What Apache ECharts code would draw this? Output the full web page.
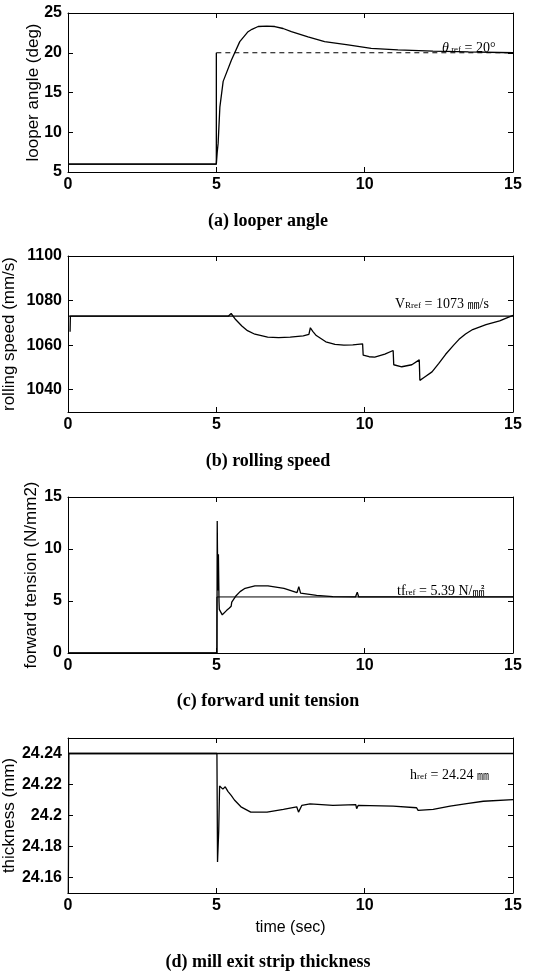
<!DOCTYPE html>
<html>
<head>
<meta charset="utf-8">
<script src="https://cdn.jsdelivr.net/npm/echarts@6.0.0/dist/echarts.min.js"></script>
<style>
  html, body { margin: 0; padding: 0; background: #fff; }
  #chart { width: 536px; height: 978px; }
</style>
</head>
<body>
<div id="chart"></div>
<script>
// (a) looper angle
const angleT = [0, 5.0, 5.03, 5.06, 5.12, 5.23, 5.51, 5.79, 6.07, 6.2, 6.41, 6.7, 6.97, 7.25, 7.53, 8.09, 8.65, 9.44, 10.22, 11.12, 12.3, 13.5, 15]
const angleV = [6, 6, 7.5, 8.6, 13.2, 16.4, 19.1, 21.4, 22.65, 22.95, 23.3, 23.35, 23.3, 23.05, 22.65, 22.0, 21.4, 21.0, 20.55, 20.35, 20.2, 20.1, 20.0]
const angleRefT = [0, 5.0, 5.0, 15]
const angleRefV = [6, 6, 20, 20]

// (b) rolling speed
const speedT = [0.07, 0.08, 5.4, 5.5, 5.65, 5.86, 6.05, 6.3, 6.73, 7.1, 7.49, 7.93, 8.12, 8.17, 8.25, 8.37, 8.69, 9.0, 9.3, 9.6, 9.93, 9.95, 10.15, 10.34, 10.68, 10.96, 10.98, 11.25, 11.59, 11.84, 11.86, 12.0, 12.27, 12.5, 12.73, 13.0, 13.18, 13.4, 13.64, 14.09, 14.55, 15]
const speedV = [1066, 1073, 1073, 1074.2, 1071.5, 1068.6, 1066.5, 1064.9, 1063.6, 1063.4, 1063.6, 1064.2, 1064.8, 1067.8, 1066.2, 1064.3, 1061.5, 1060.3, 1060, 1060.1, 1060.6, 1055.5, 1054.8, 1054.6, 1056, 1057.6, 1051.2, 1050.3, 1051.2, 1053.4, 1044.2, 1045.5, 1048, 1051.8, 1055.9, 1060, 1062.6, 1065, 1067, 1069.2, 1070.9, 1073.4]
const speedRefT = [0, 15]
const speedRefV = [1073, 1073]

// (c) forward unit tension
const tensionT = [0, 5.02, 5.03, 5.05, 5.07, 5.09, 5.1, 5.2, 5.35, 5.43, 5.5, 5.52, 5.65, 5.8, 5.97, 6.3, 6.74, 7.28, 7.72, 7.78, 7.84, 8.38, 8.93, 9.69, 9.75, 9.8, 15]
const tensionV = [0, 0, 12.7, 6, 9.5, 5, 4.2, 3.67, 4.1, 4.3, 4.5, 4.9, 5.45, 5.9, 6.22, 6.45, 6.45, 6.22, 5.8, 6.38, 5.75, 5.55, 5.42, 5.39, 5.85, 5.39, 5.39]
const tensionRefT = [0, 5.02, 5.02, 15]
const tensionRefV = [0, 0, 5.39, 5.39]

// (d) mill exit strip thickness
const thickT = [0, 0.03, 5.02, 5.04, 5.08, 5.11, 5.22, 5.3, 5.39, 5.5, 5.61, 5.83, 6.16, 6.71, 7.26, 7.71, 7.77, 7.88, 8.16, 8.93, 9.7, 9.73, 9.78, 10.96, 11.0, 11.75, 11.8, 12.31, 12.88, 13.44, 14.0, 15]
const thickV = [24.1, 24.24, 24.24, 24.17, 24.19, 24.219, 24.217, 24.2185, 24.2156, 24.213, 24.21, 24.2056, 24.2022, 24.2022, 24.204, 24.2056, 24.2022, 24.2065, 24.2075, 24.2065, 24.207, 24.2044, 24.2065, 24.206, 24.205, 24.205, 24.2033, 24.204, 24.206, 24.2077, 24.2092, 24.2103]
const thickRefT = [0, 15]
const thickRefV = [24.24, 24.24]

const speedTicks = [1040, 1060, 1080, 1100]
const thickTicks = [24.16, 24.18, 24.2, 24.22, 24.24]

const sans = 'Liberation Sans, Arial, sans-serif'
const serif = 'Liberation Serif, Times New Roman, serif'

const zip = (t, v) => t.map((x, i) => [x, v[i]])

const grids = [
  { left: 68, width: 445, top: 13, height: 159 },
  { left: 68, width: 445, top: 256, height: 156 },
  { left: 68, width: 445, top: 497, height: 156 },
  { left: 68, width: 445, top: 738, height: 155 },
].map(g => ({ ...g, containLabel: false, outerBoundsMode: 'none' }))

const lineAx = { show: true, onZero: false, lineStyle: { color: '#000', width: 1 } }
const tick = { show: true, inside: true, length: 5, lineStyle: { color: '#000' } }
const tickFont = { color: '#000', fontSize: 16, fontFamily: sans, fontWeight: 'bold' }

const xAxes = []
const yAxes = []
grids.forEach((g, i) => {
  xAxes.push({
    type: 'value', gridIndex: i, min: 0, max: 15, interval: 5, position: 'bottom',
    axisLine: lineAx, axisTick: tick, splitLine: { show: false },
    axisLabel: { ...tickFont, margin: 5 },
    name: i === 3 ? 'time (sec)' : '', nameLocation: 'middle', nameGap: 27, nameMoveOverlap: false,
    nameTextStyle: { color: '#000', fontSize: 16, fontFamily: sans },
  })
  xAxes.push({
    type: 'value', gridIndex: i, min: 0, max: 15, interval: 5, position: 'top',
    axisLine: lineAx, axisTick: tick, splitLine: { show: false }, axisLabel: { show: false },
  })
})

const ySpecs = [
  { min: 5, max: 25, interval: 5, name: 'looper angle (deg)', gap: 26 },
  { min: 1030, max: 1100, custom: speedTicks, name: 'rolling speed (mm/s)', gap: 50 },
  { min: 0, max: 15, interval: 5, name: 'forward tension (N/mm2)', gap: 28 },
  { min: 24.15, max: 24.25, custom: thickTicks, name: 'thickness (mm)', gap: 50 },
]
ySpecs.forEach((s, i) => {
  const tk = s.custom ? { ...tick, customValues: s.custom } : tick
  yAxes.push({
    type: 'value', gridIndex: i, min: s.min, max: s.max, interval: s.interval, position: 'left',
    axisLine: lineAx, axisTick: tk, splitLine: { show: false },
    axisLabel: {
      ...tickFont, margin: 6, customValues: s.custom,
      formatter: v => String(+v.toFixed(2)),
    },
    name: s.name, nameLocation: 'middle', nameGap: s.gap, nameMoveOverlap: false,
    nameTextStyle: { color: '#000', fontSize: 17, fontFamily: sans },
  })
  yAxes.push({
    type: 'value', gridIndex: i, min: s.min, max: s.max, interval: s.interval, position: 'right',
    axisLine: lineAx, axisTick: tk, splitLine: { show: false }, axisLabel: { show: false },
  })
})

function line(data, i, opts = {}) {
  return {
    type: 'line', data, xAxisIndex: i * 2, yAxisIndex: i * 2, showSymbol: false,
    animation: false, silent: true,
    lineStyle: { color: '#000', width: opts.width || 1.3, type: opts.type || 'solid' },
  }
}

const angleRef = zip(angleRefT, angleRefV)

const captions = ['(a) looper angle', '(b) rolling speed', '(c) forward unit tension', '(d) mill exit strip thickness']
const captionTops = [207, 447, 687, 948]

const titles = captions.map((c, i) => ({
  text: c, left: 'center', top: captionTops[i],
  textStyle: { fontFamily: serif, fontWeight: 'bold', fontSize: 18, color: '#000' },
}))

const noteStyle = {
  fontFamily: serif, fontSize: 14, color: '#000', fontWeight: 'normal',
  rich: {
    it: { fontFamily: serif, fontSize: 14, fontStyle: 'italic', color: '#000' },
    sub: { fontFamily: serif, fontSize: 9, color: '#000', padding: [4, 0, 0, 0] },
    n: { fontFamily: serif, fontSize: 14, color: '#000' },
    mm: { fontFamily: 'Noto Sans CJK KR', fontSize: 12, color: '#000' },
  },
}
titles.push(
  { text: '{it|θ}{sub| ref}{n| = 20°}', left: 437, top: 36, textStyle: noteStyle },
  { text: '{n|V}{sub|Rref}{n| = 1073 }{mm|㎜}{n|/s}', left: 390, top: 292, textStyle: noteStyle },
  { text: '{n|tf}{sub|ref}{n| = 5.39 N/}{mm|㎟}', left: 392, top: 579, textStyle: noteStyle },
  { text: '{n|h}{sub|ref}{n| = 24.24 }{mm|㎜}', left: 405, top: 763, textStyle: noteStyle },
)

const chart = echarts.init(document.getElementById('chart'))
chart.setOption({
  backgroundColor: '#fff',
  animation: false,
  title: titles,
  grid: grids,
  xAxis: xAxes,
  yAxis: yAxes,
  series: [
    line(zip(angleT, angleV), 0),
    line(angleRef.slice(0, 3), 0),
    line(angleRef.slice(2), 0, { type: [5, 4], width: 1.2 }),
    line(zip(speedRefT, speedRefV), 1),
    line(zip(speedT, speedV), 1),
    line(zip(tensionRefT, tensionRefV), 2, { width: 1 }),
    line(zip(tensionT, tensionV), 2),
    line(zip(thickRefT, thickRefV), 3),
    line(zip(thickT, thickV), 3),
  ],
})
window.addEventListener('resize', () => chart.resize())
</script>
</body>
</html>
